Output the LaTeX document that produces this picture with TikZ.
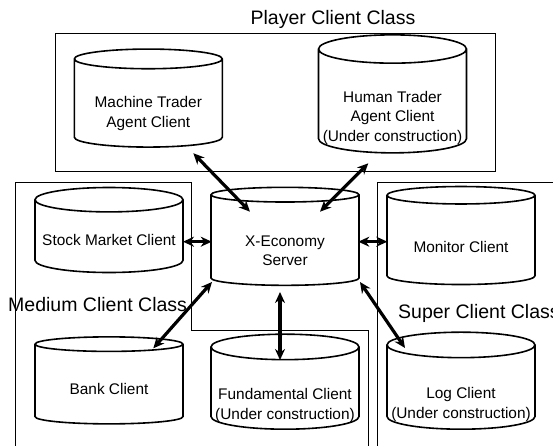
\documentclass[tikz,border=0pt]{standalone}
\usepackage{fontspec}
\setmainfont{Liberation Sans}
\usepackage{tikz}
\usetikzlibrary{calc}
\usetikzlibrary{arrows.meta}
\usetikzlibrary{shapes.geometric}
\newcommand{\lowered}[2]{\raisebox{-#1}[\height][\depth]{%
  \begin{tabular}{@{}c@{}}#2\end{tabular}}}
\begin{document}
\begin{tikzpicture}[x=1pt,y=-1pt,
      client/.style={draw,cylinder,shape border rotate=90,aspect=0.18,
        line width=1.6pt,minimum width=148pt,inner sep=1pt,
        font=\fontsize{15.4}{19.5}\selectfont},
      class box/.style={line width=0.8pt},
      class name/.style={font=\fontsize{19.5}{23}\selectfont,inner sep=0pt},
      arr/.style={{Stealth[length=11pt,width=10pt]}-{Stealth[length=11pt,width=10pt]},
        line width=3.2pt}]
    \useasboundingbox (0,0) rectangle (553,446);
    \draw[class box] (55,33.3) rectangle (495,171.7);
    \draw[class box] (15,450) -- (15,182.7) -- (191.7,182.7) -- (191.7,330)
      -- (368,330) -- (368,450);
    \draw[class box] (377.5,450) -- (377.5,182.7) -- (560,182.7);
    \node[class name] (player) at (333,19) {Player Client Class};
    \node[class name,anchor=west] (medium) at (8,305) {Medium Client Class};
    \node[class name,anchor=west] (super) at (398,313) {Super Client Class};
    \node[client,minimum height=98pt] (mach) at (148.3,104.2)
      {\lowered{9.5pt}{Machine Trader\\Agent Client}};
    \node[client,minimum height=118pt,aspect=0.2] (human) at (392.5,102.5)
      {\lowered{15.5pt}{Human Trader\\Agent Client\\(Under construction)}};
    \node[client,minimum height=85pt] (stock) at (109,237.5)
      {\lowered{4pt}{Stock Market Client}};
    \node[client,minimum height=98pt] (srv) at (285,241)
      {\lowered{11pt}{X-Economy\\Server}};
    \node[client,minimum height=98pt] (mon) at (461,241)
      {\lowered{8pt}{Monitor Client}};
    \node[client,minimum height=87pt] (bank) at (109,385)
      {\lowered{6pt}{Bank Client}};
    \node[client,minimum height=95pt] (fund) at (285,389.5)
      {\lowered{16pt}{Fundamental Client\\(Under construction)}};
    \node[client,minimum height=97pt] (log) at (461,388.5)
      {\lowered{16pt}{Log Client\\(Under construction)}};
    \draw ($(mach.center)+(45,49)$) edge[arr] ($(srv.center)+(-35,-29.3)$);
    \draw ($(human.center)+(-24.2,60.8)$) edge[arr] ($(srv.center)+(35,-29.3)$);
    \draw ($(stock.center)+(74,4.2)$) edge[arr] ($(srv.center)+(-73.3,0.7)$);
    \draw ($(srv.center)+(73.3,0.7)$) edge[arr] ($(mon.center)+(-73.7,0.7)$);
    \draw ($(srv.center)+(-73,41)$) edge[arr] ($(bank.center)+(44.3,-36.7)$);
    \draw ($(srv.center)+(-5,51)$) edge[arr] ($(fund.center)+(-5,-29.5)$);
    \draw ($(srv.center)+(75,41)$) edge[arr] ($(log.center)+(-56,-40.5)$);
  \end{tikzpicture}
\end{document}
